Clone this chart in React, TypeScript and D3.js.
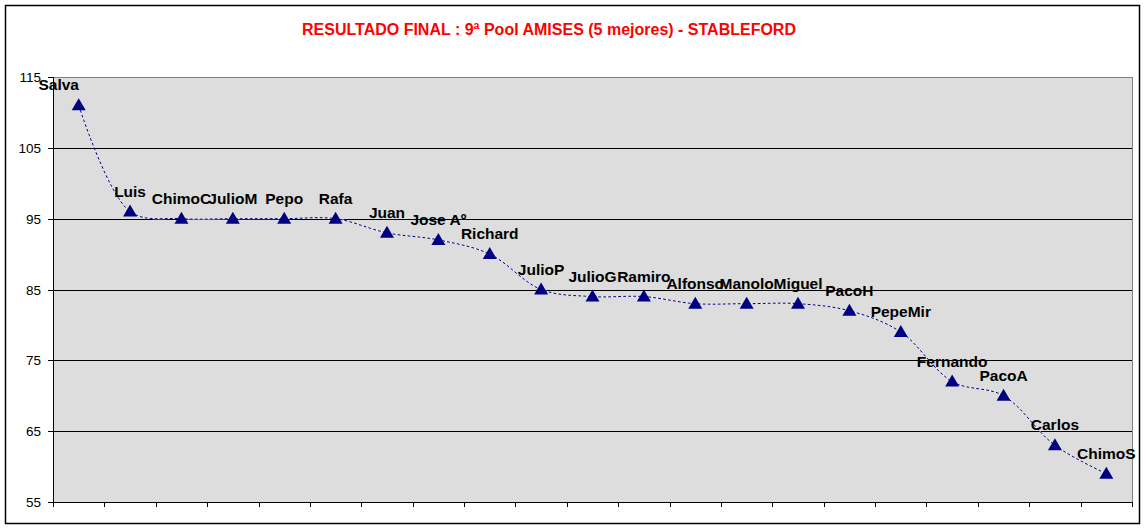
import React from "react";
import * as d3 from "d3";

const players = ["Salva","Luis","ChimoC","JulioM","Pepo","Rafa","Juan","Jose Aº","Richard","JulioP","JulioG","Ramiro","Alfonso","Manolo","Miguel","PacoH","PepeMir","Fernando","PacoA","Carlos","ChimoS"];
const scores = [111,96,95,95,95,95,93,92,90,85,84,84,83,83,83,82,79,72,70,63,59];
const yTicks = [55,65,75,85,95,105,115];
const labelShift = [-20,0,0,0,0,0,0,0,0,0,0,0,0,0,0,0,0,0,0,0,0];
const title = "RESULTADO FINAL : 9ª Pool AMISES (5 mejores) - STABLEFORD";

const W = 1146, H = 529;
const L = 53, R = 1132, T = 77, B = 502;
const font = "'Liberation Sans', Arial, sans-serif";

export default function App() {
  const x = d3.scaleBand<string>().domain(players).range([L, R]);
  const y = d3.scaleLinear().domain([55, 115]).range([B, T]);
  const pts: [number, number][] = players.map((p, i) => [x(p)! + x.bandwidth() / 2, y(scores[i])]);
  const line = d3.line().curve(d3.curveCatmullRom.alpha(0.5))(pts) || "";
  const bounds = players.map((p) => x(p)!).concat([R]);
  const tri = "M0,-7L7,5L-7,5Z";
  return (
    <svg width={W} height={H} style={{ position: "absolute", left: 0, top: 0, background: "#fff" }}>
      <rect x={5.5} y={5.5} width={1134} height={518} fill="#fff" stroke="#000" strokeWidth={1.5} />
      <text x={549} y={35} textAnchor="middle" fill="#ff0000" fontFamily={font} fontWeight="bold" fontSize={16}>{title}</text>
      <rect x={L} y={T} width={R - L} height={B - T} fill="#dddddd" />
      {yTicks.filter((t) => t !== 55 && t !== 115).map((t) => (
        <line key={t} x1={L} x2={R} y1={Math.round(y(t)) + 0.5} y2={Math.round(y(t)) + 0.5} stroke="#000" />
      ))}
      <line x1={L} x2={R} y1={T + 0.5} y2={T + 0.5} stroke="#808080" />
      <line x1={R + 0.5} x2={R + 0.5} y1={T} y2={B} stroke="#808080" />
      <line x1={L + 0.5} x2={L + 0.5} y1={T} y2={B + 1} stroke="#000" />
      <line x1={L} x2={R + 1} y1={B + 0.5} y2={B + 0.5} stroke="#000" />
      {yTicks.map((t) => (
        <g key={t}>
          <line x1={L - 5} x2={L} y1={Math.round(y(t)) + 0.5} y2={Math.round(y(t)) + 0.5} stroke="#000" />
          <text x={L - 12} y={y(t) + 5} textAnchor="end" fontFamily={font} fontSize={13.5} fill="#000">{t}</text>
        </g>
      ))}
      {bounds.map((b, i) => (
        <line key={i} x1={Math.round(b) + 0.5} x2={Math.round(b) + 0.5} y1={B} y2={B + 5} stroke="#000" />
      ))}
      <path d={line} fill="none" stroke="#ffffff" strokeWidth={1} />
      <path d={line} fill="none" stroke="#000080" strokeWidth={1} strokeDasharray="3 2" />
      {pts.map((p, i) => (
        <path key={i} d={tri} transform={`translate(${p[0]},${p[1]})`} fill="#000080" />
      ))}
      {pts.map((p, i) => (
        <text key={i} x={p[0] + labelShift[i]} y={p[1] - 15} textAnchor="middle" fontFamily={font} fontWeight="bold" fontSize={15.5} fill="#000">{players[i]}</text>
      ))}
    </svg>
  );
}
